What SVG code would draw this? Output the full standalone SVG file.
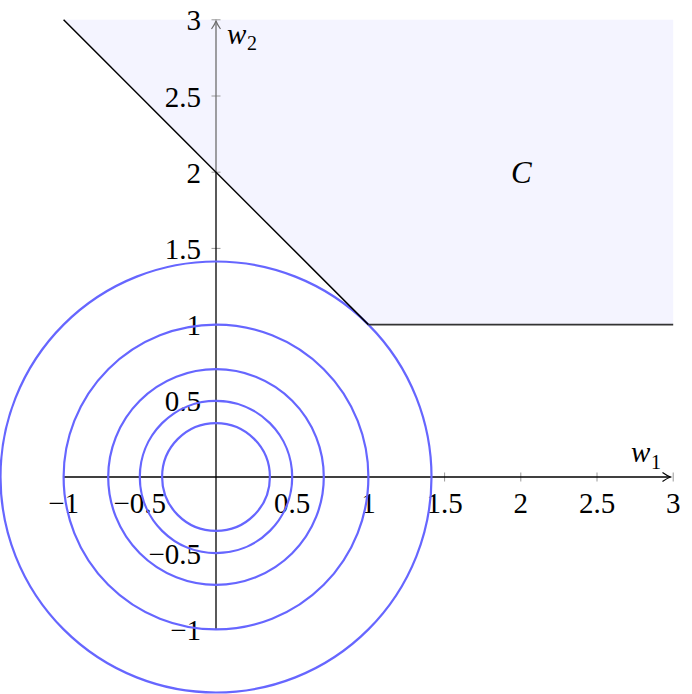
<svg xmlns="http://www.w3.org/2000/svg" width="692" height="694" viewBox="0 0 692 694">
<style>
.lbl{font-family:"Liberation Serif","Times New Roman",serif;font-size:29px;fill:#000}
.xl{text-anchor:middle}
.yl{text-anchor:end}
.it{font-style:italic}
.tick{stroke:#9a9a9a;stroke-width:1}
.circ{fill:none;stroke:#6666ff;stroke-width:2.2}
</style>
<defs>
<marker id="arrB" markerWidth="12" markerHeight="12" refX="9" refY="6" orient="auto" markerUnits="userSpaceOnUse">
<path d="M1,1.5 Q6,5 9,6 Q6,7 1,10.5" fill="none" stroke="#000" stroke-width="1.2"/>
</marker>
<marker id="arrG" markerWidth="12" markerHeight="12" refX="9" refY="6" orient="auto" markerUnits="userSpaceOnUse">
<path d="M1,1.5 Q6,5 9,6 Q6,7 1,10.5" fill="none" stroke="#6e6e6e" stroke-width="1.2"/>
</marker>
</defs>
<rect width="692" height="694" fill="#fff"/>
<g id="region">
<polygon points="63.6,19.8 368.4,324.6 673.2,324.6 673.2,19.8" fill="#f4f4ff"/>
</g>
<g id="ticks">
<line class="tick" x1="63.6" y1="472.5" x2="63.6" y2="481.5"/>
<line class="tick" x1="139.8" y1="472.5" x2="139.8" y2="481.5"/>
<line class="tick" x1="292.2" y1="472.5" x2="292.2" y2="481.5"/>
<line class="tick" x1="368.4" y1="472.5" x2="368.4" y2="481.5"/>
<line class="tick" x1="444.6" y1="472.5" x2="444.6" y2="481.5"/>
<line class="tick" x1="520.8" y1="472.5" x2="520.8" y2="481.5"/>
<line class="tick" x1="597" y1="472.5" x2="597" y2="481.5"/>
<line class="tick" x1="673.2" y1="472.5" x2="673.2" y2="481.5"/>
<line class="tick" x1="211.5" y1="19.8" x2="220.5" y2="19.8"/>
<line class="tick" x1="211.5" y1="96" x2="220.5" y2="96"/>
<line class="tick" x1="211.5" y1="172.2" x2="220.5" y2="172.2"/>
<line class="tick" x1="211.5" y1="248.4" x2="220.5" y2="248.4"/>
<line class="tick" x1="211.5" y1="324.6" x2="220.5" y2="324.6"/>
<line class="tick" x1="211.5" y1="400.8" x2="220.5" y2="400.8"/>
<line class="tick" x1="211.5" y1="553.2" x2="220.5" y2="553.2"/>
<line class="tick" x1="211.5" y1="629.4" x2="220.5" y2="629.4"/>
</g>
<g id="axes">
<line x1="63.6" y1="477" x2="670.5" y2="477" stroke="#000" stroke-width="1.3" marker-end="url(#arrB)"/>
<line x1="216" y1="629.4" x2="216" y2="172.2" stroke="#000" stroke-width="1.3"/>
<line x1="216" y1="172.2" x2="216" y2="21" stroke="#6e6e6e" stroke-width="1.3" marker-end="url(#arrG)"/>
</g>
<g id="labels">
<text class="lbl xl" x="63.6" y="513">−1</text>
<text class="lbl xl" x="139.8" y="513">−0.5</text>
<text class="lbl xl" x="292.2" y="513">0.5</text>
<text class="lbl xl" x="368.4" y="513">1</text>
<text class="lbl xl" x="444.6" y="513">1.5</text>
<text class="lbl xl" x="520.8" y="513">2</text>
<text class="lbl xl" x="597" y="513">2.5</text>
<text class="lbl xl" x="673.2" y="513">3</text>
<text class="lbl yl" x="201" y="30.3">3</text>
<text class="lbl yl" x="201" y="106.5">2.5</text>
<text class="lbl yl" x="201" y="182.7">2</text>
<text class="lbl yl" x="201" y="258.9">1.5</text>
<text class="lbl yl" x="201" y="335.1">1</text>
<text class="lbl yl" x="201" y="411.3">0.5</text>
<text class="lbl yl" x="201" y="563.7">−0.5</text>
<text class="lbl yl" x="201" y="639.9">−1</text>
<text class="lbl it" x="631" y="462">w</text><text class="lbl" x="651" y="469" style="font-size:20px">1</text>
<text class="lbl it" x="227" y="44">w</text><text class="lbl" x="247" y="50" style="font-size:20px">2</text>
<text class="lbl it" x="511" y="183" style="font-size:31px">C</text>
</g>
<g id="level-sets">
<circle class="circ" cx="216" cy="477" r="53.9"/>
<circle class="circ" cx="216" cy="477" r="76.2"/>
<circle class="circ" cx="216" cy="477" r="107.8"/>
<circle class="circ" cx="216" cy="477" r="152.4"/>
<circle class="circ" cx="216" cy="477" r="215.5"/>
</g>
<g id="constraint">
<polyline points="63.6,19.8 368.4,324.6" fill="none" stroke="#000" stroke-width="1.5"/>
<polyline points="368.4,324.6 673.2,324.6" fill="none" stroke="#333" stroke-width="1.8"/>
</g>
</svg>
